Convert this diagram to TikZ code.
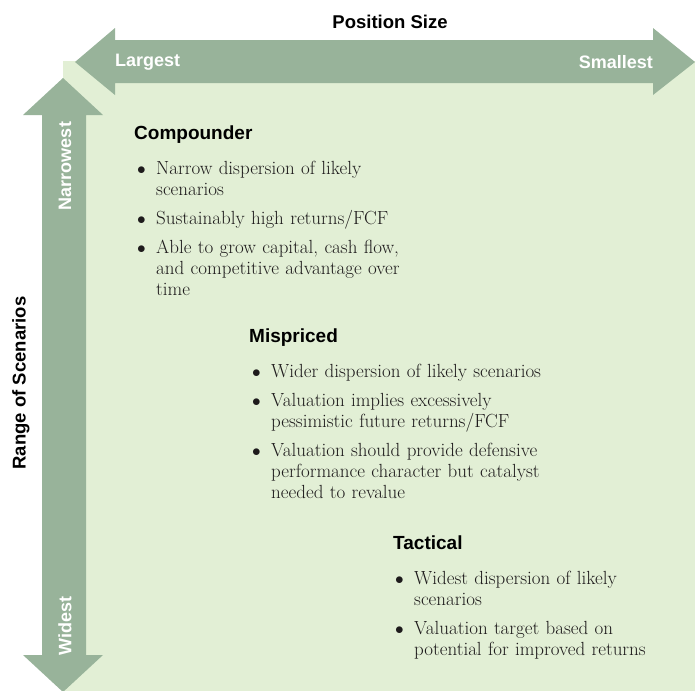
\documentclass[tikz,border=0pt]{standalone}
\usepackage{fontspec}
\setsansfont{Liberation Sans}
\usepackage{enumitem}
\setlist[itemize]{label=$\bullet$, nosep, itemsep=8pt, leftmargin=19pt, labelwidth=10pt, labelsep=9pt, align=left}
\usetikzlibrary{positioning}
\definecolor{arrowgreen}{RGB}{152,179,154}
\definecolor{palegreen}{RGB}{226,239,213}
\definecolor{bodytext}{RGB}{30,27,28}

\begin{document}
\begin{tikzpicture}[x=1pt, y=-1pt,
  axis/.style={fill=arrowgreen},
  axislabel/.style={font=\fontsize{18}{21}\sffamily\bfseries, text=white, inner sep=0pt},
  title/.style={font=\fontsize{18.5}{21}\sffamily\bfseries, inner sep=0pt},
  heading/.style={font=\fontsize{19}{21}\sffamily\bfseries, anchor=base west, inner sep=0pt},
  points/.style={font=\fontsize{19}{21}\selectfont, text=bodytext, inner sep=0pt, align=left}]
\useasboundingbox (0,0) rectangle (697,691);
\fill[palegreen] (63,61) rectangle (695,691);
\fill[axis] (75,62) -- (115,28) -- (115,40) -- (653,40) -- (653,28) -- (695,62) -- (653,95) -- (653,83) -- (115,83) -- (115,95) -- cycle;
\fill[axis] (63,78) -- (103,115) -- (86,115) -- (86,655) -- (103,655) -- (63,692) -- (23,655) -- (42,655) -- (42,115) -- (23,115) -- cycle;

\node[title] (possize) at (390,22) {Position Size};
\node[axislabel, anchor=west] (largest) at (115,62) {Largest};
\node[axislabel, anchor=east] (smallest) at (653,62) {Smallest};
\node[title, rotate=90] (range) at (21,383) {Range of Scenarios};
\node[axislabel, rotate=90] (narrowest) at (65,166) {Narrowest};
\node[axislabel, rotate=90] (widest) at (65,626) {Widest};

\node[heading] (compounder) at (134,139) {Compounder};
\node[points, text width=291pt, below right=14pt and 3pt of compounder.base west] (compounderlist) {
  \begin{itemize}
    \item Narrow dispersion of likely scenarios
    \item Sustainably high returns/FCF
    \item Able to grow capital, cash flow, and competitive advantage over time
  \end{itemize}};

\node[heading] (mispriced) at (249,342) {Mispriced};
\node[points, text width=319pt, below right=14pt and 3pt of mispriced.base west] (mispricedlist) {
  \begin{itemize}
    \item Wider dispersion of likely scenarios
    \item Valuation implies excessively pessimistic future returns/FCF
    \item Valuation should provide defensive performance character but catalyst needed to revalue
  \end{itemize}};

\node[heading] (tactical) at (393,549) {Tactical};
\node[points, text width=274pt, below right=14pt and 2pt of tactical.base west] (tacticallist) {
  \begin{itemize}
    \item Widest dispersion of likely scenarios
    \item Valuation target based on potential for improved returns
  \end{itemize}};
\end{tikzpicture}
\end{document}
